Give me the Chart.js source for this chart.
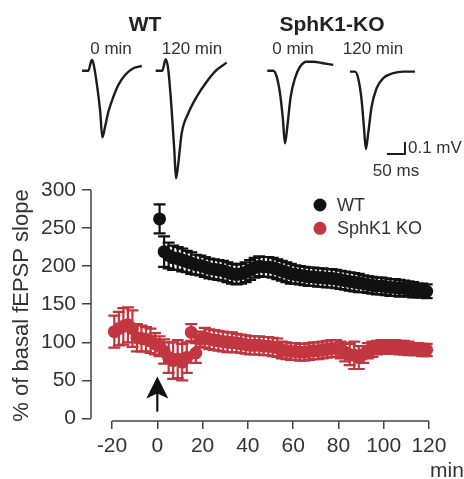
<!DOCTYPE html>
<html><head><meta charset="utf-8">
<script src="https://cdn.jsdelivr.net/npm/chart.js@4"></script>
<style>
html,body{margin:0;padding:0;background:#fff;}
#wrap{position:relative;width:464px;height:479px;overflow:hidden;}
#main{position:absolute;left:0;top:0;width:464px;height:479px;}
#traces{position:absolute;left:0;top:0;width:464px;height:190px;pointer-events:none;}
</style></head><body>
<div id="wrap">
<canvas id="main" width="464" height="479"></canvas>
<canvas id="traces" width="464" height="190"></canvas>
</div>
<script>
// ---------- main plot data ----------
const wtMinutes = [1,3,5,7,9,11,13,15,17,19,21,23,25,27,29,31,33,35,37,39,41,43,45,47,49,51,53,55,57,59,
  61,63,65,67,69,71,73,75,77,79,81,83,85,87,89,91,93,95,97,99,101,103,105,107,109,111,113,115,117,119];
const wtValues = [262,219,214,211,210,208,206,204,202,201,199,197,196,195,194,192,190,189,190,192,195,198,200,199,199,198,196,194,192,190,
  189,188,187,186,186,185,185,184,184,183,182,181,180,179,178,177,176,175,174,174,173,172,172,171,171,170,169,168,168,167];
const wtErrors = [19,20,17,16,15,15,14,14,13,13,13,13,13,13,13,13,13,13,13,13,13,13,13,13,13,13,13,13,13,13,
  12,12,12,12,12,12,12,12,12,12,12,12,12,12,12,11,11,11,11,11,11,11,11,11,10,10,10,9,9,9];

const koMinutes = [-19,-17,-15,-13,-11,-9,-7,-5,-3,-1,1,3,5,7,9,11,13,15,17,19,21,23,25,27,29,31,33,35,37,39,
  41,43,45,47,49,51,53,55,57,59,61,63,65,67,69,71,73,75,77,79,81,83,85,87,89,91,93,95,97,99,101,103,105,107,109,111,113,115,117,119];
const koValues = [114,118,121,123,118,106,105,104,102,98,95,88,80,76,78,74,80,113,86,104,106,104,103,102,101,100,100,99,98,97,
  96,96,96,95,95,94,93,90,89,88,88,87,87,88,89,89,90,91,92,92,90,87,84,83,80,84,89,91,93,94,94,94,94,93,93,92,91,91,90,90];
const koErrors = [21,22,24,23,24,18,17,16,16,14,13,16,20,24,25,24,20,11,13,10,13,13,13,13,13,13,13,12,12,12,
  12,12,12,12,12,12,12,11,11,11,11,11,11,11,11,11,11,11,11,11,11,12,14,18,15,11,10,10,9,9,9,9,9,9,9,9,8,8,8,8];

const seriesLabels = ['WT','SphK1 KO'];
const xTicks = [-20,0,20,40,60,80,100,120];
const yTicks = [0,50,100,150,200,250,300];
const arrowMinute = 0, arrowTip = 55, arrowTail = 9;

// ---------- trace data (ms from trace start, mV from baseline) ----------
const traceWT0 = [[0,0],[17.5,0],[26.9,0.089],[31.4,0.062],[40.8,-0.105],[50,-0.328],[56.4,-0.555],[63.9,-0.467],[73.1,-0.342],[87,-0.217],[100.8,-0.119],[119.4,-0.036],[142.5,0.02],[165.8,0.039]];
const traceWT120 = [[0,0],[18.3,0],[27.8,0.095],[35,0.006],[44.4,-0.328],[51.7,-0.661],[56.4,-0.897],[62.8,-0.772],[72.2,-0.522],[90.6,-0.355],[113.9,-0.217],[141.7,-0.092],[169.4,0.006],[197.2,0.067]];
const traceKO0 = [[0,0],[16.7,0],[26.1,-0.05],[35.3,-0.188],[42.8,-0.383],[49.2,-0.605],[55.6,-0.467],[65,-0.217],[76.9,-0.063],[90.8,0.033],[109.4,0.075],[127.8,0.075],[155.6,0.062],[183.3,0.048]];
const traceKO120 = [[0,0],[13.9,0],[23.1,-0.055],[32.5,-0.236],[38.9,-0.458],[44.4,-0.644],[50.8,-0.514],[60.3,-0.292],[74.2,-0.138],[92.5,-0.055],[120.3,-0.013],[148.1,0],[180.6,0]];
const scaleBarMs = 50, scaleBarMv = 0.1;

// ---------- styles / layout ----------
const RED = '#c1363f', BLACK = '#111111', TXT = '#333333', AX = '#444444';
const traceStarts = [228, 432.5, 742.5, 972];   // ms positions on the trace canvas
const traceBaselines = [0, 0, 0, -0.008];
const barOrigin = [1075, -0.694];

const pairs = (xs, ys) => xs.map((x, i) => ({x, y: ys[i]}));

const errorBars = {
  id: 'errorBars',
  beforeDatasetsDraw(chart) {
    const {ctx, scales: {x, y}} = chart;
    chart.data.datasets.forEach(ds => {
      if (!ds.errors) return;
      ctx.save();
      ctx.strokeStyle = ds.backgroundColor;
      ctx.lineWidth = 2.2;
      ds.data.forEach((p, j) => {
        const px = x.getPixelForValue(p.x);
        const y1 = y.getPixelForValue(p.y + ds.errors[j]);
        const y2 = y.getPixelForValue(p.y - ds.errors[j]);
        ctx.beginPath();
        ctx.moveTo(px, y1); ctx.lineTo(px, y2);
        ctx.moveTo(px - 6, y1); ctx.lineTo(px + 6, y1);
        ctx.moveTo(px - 6, y2); ctx.lineTo(px + 6, y2);
        ctx.stroke();
      });
      ctx.restore();
    });
  }
};

const axesAndDecor = {
  id: 'axesAndDecor',
  afterDraw(chart) {
    const {ctx, chartArea, scales: {x, y}} = chart;
    ctx.save();
    ctx.strokeStyle = AX; ctx.lineWidth = 1.5;
    ctx.beginPath();
    ctx.moveTo(chartArea.left, y.getPixelForValue(yTicks[0]));
    ctx.lineTo(chartArea.left, y.getPixelForValue(yTicks[yTicks.length - 1]));
    ctx.moveTo(x.getPixelForValue(xTicks[0]), chartArea.bottom);
    ctx.lineTo(x.getPixelForValue(xTicks[xTicks.length - 1]), chartArea.bottom);
    ctx.stroke();
    // arrow
    const ax = x.getPixelForValue(arrowMinute);
    const tip = y.getPixelForValue(arrowTip);
    const tail = y.getPixelForValue(arrowTail);
    ctx.strokeStyle = '#111'; ctx.fillStyle = '#111'; ctx.lineWidth = 2.2;
    ctx.beginPath(); ctx.moveTo(ax, tip + 12); ctx.lineTo(ax, tail); ctx.stroke();
    ctx.beginPath();
    ctx.moveTo(ax, tip);
    ctx.lineTo(ax + 11, tip + 22);
    ctx.lineTo(ax, tip + 17);
    ctx.lineTo(ax - 11, tip + 22);
    ctx.closePath(); ctx.fill();
    // legend
    ctx.font = '18px "Liberation Sans", Arial, sans-serif';
    ctx.textBaseline = 'middle'; ctx.textAlign = 'left';
    chart.data.datasets.forEach((ds, i) => {
      const cy = 205 + i * 23.3;
      ctx.fillStyle = ds.backgroundColor;
      ctx.beginPath(); ctx.arc(320, cy, 6.5, 0, Math.PI * 2); ctx.fill();
      ctx.fillStyle = TXT;
      ctx.fillText(ds.label, 337, cy + 1);
    });
    ctx.font = '21px "Liberation Sans", Arial, sans-serif';
    ctx.textBaseline = 'alphabetic';
    ctx.fillText('min', 430, 477);
    ctx.restore();
  }
};

new Chart(document.getElementById('main'), {
  type: 'scatter',
  data: {
    datasets: [
      {label: seriesLabels[0], data: pairs(wtMinutes, wtValues), errors: wtErrors,
       backgroundColor: BLACK, borderColor: BLACK, pointRadius: 6.5, pointBorderWidth: 0, pointHoverRadius: 6.5},
      {label: seriesLabels[1], data: pairs(koMinutes, koValues), errors: koErrors,
       backgroundColor: RED, borderColor: RED, pointRadius: 6.5, pointBorderWidth: 0, pointHoverRadius: 6.5}
    ]
  },
  options: {
    responsive: false, animation: false, events: [],
    layout: {padding: {left: 0, right: 26, top: 190, bottom: 18}},
    plugins: {legend: {display: false}, tooltip: {enabled: false}},
    scales: {
      x: {
        type: 'linear', min: -29.3, max: 124,
        afterBuildTicks: s => { s.ticks = xTicks.map(v => ({value: v})); },
        afterFit: s => { s.height = 40; },
        border: {display: false},
        grid: {display: true, drawOnChartArea: false, drawTicks: true, tickLength: 8, color: AX, lineWidth: 1.5},
        ticks: {color: TXT, padding: 5, maxRotation: 0, font: {family: '"Liberation Sans", Arial, sans-serif', size: 21}}
      },
      y: {
        type: 'linear', min: -3.3, max: 300,
        afterBuildTicks: s => { s.ticks = yTicks.map(v => ({value: v})); },
        afterFit: s => { s.width = 91; },
        border: {display: false},
        grid: {display: true, drawOnChartArea: false, drawTicks: true, tickLength: 9, color: AX, lineWidth: 1.5},
        ticks: {color: TXT, padding: 6, font: {family: '"Liberation Sans", Arial, sans-serif', size: 21}},
        title: {display: true, text: '% of basal fEPSP slope', color: TXT, padding: {top: 9, bottom: 0},
                font: {family: '"Liberation Sans", Arial, sans-serif', size: 22}}
      }
    }
  },
  plugins: [errorBars, axesAndDecor]
});

// ---------- traces panel ----------
const traceLabels = {
  id: 'traceLabels',
  afterDraw(chart) {
    const {ctx} = chart;
    ctx.save();
    ctx.fillStyle = '#222'; ctx.textAlign = 'center'; ctx.textBaseline = 'alphabetic';
    ctx.font = 'bold 21px "Liberation Sans", Arial, sans-serif';
    ctx.fillText('WT', 145, 31);
    ctx.fillText('SphK1-KO', 332, 31);
    ctx.fillStyle = TXT;
    ctx.font = '17px "Liberation Sans", Arial, sans-serif';
    ctx.fillText('0 min', 111, 54);
    ctx.fillText('120 min', 192, 54);
    ctx.fillText('0 min', 293, 54);
    ctx.fillText('120 min', 373, 54);
    ctx.textAlign = 'left';
    ctx.fillText('0.1 mV', 408, 153);
    ctx.textAlign = 'center';
    ctx.fillText('50 ms', 396, 176);
    ctx.restore();
  }
};

const traces = [traceWT0, traceWT120, traceKO0, traceKO120];
const traceSets = traces.map((tr, i) => ({
  data: tr.map(([t, v]) => ({x: traceStarts[i] + t, y: traceBaselines[i] + v})),
  borderColor: '#1c1c1c', borderWidth: 2.4, cubicInterpolationMode: 'monotone', pointRadius: 0, fill: false
}));
traceSets.push({
  data: [{x: barOrigin[0], y: barOrigin[1]}, {x: barOrigin[0] + scaleBarMs, y: barOrigin[1]},
         {x: barOrigin[0] + scaleBarMs, y: barOrigin[1] + scaleBarMv}],
  borderColor: '#1c1c1c', borderWidth: 2, tension: 0, pointRadius: 0, fill: false
});

new Chart(document.getElementById('traces'), {
  type: 'line',
  data: {datasets: traceSets},
  options: {
    responsive: false, animation: false, events: [],
    layout: {padding: 0},
    plugins: {legend: {display: false}, tooltip: {enabled: false}},
    scales: {
      x: {type: 'linear', display: false, min: 0, max: 1289},
      y: {type: 'linear', display: false, min: -0.994, max: 0.589}
    }
  },
  plugins: [traceLabels]
});
</script>
</body></html>
